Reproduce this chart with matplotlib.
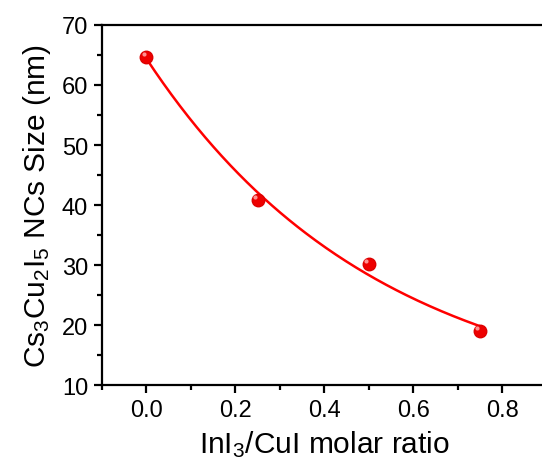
import numpy as np
import matplotlib
matplotlib.use('Agg')
import matplotlib.pyplot as plt
from matplotlib.ticker import MultipleLocator

plt.rcParams['font.family'] = ['Liberation Sans', 'DejaVu Sans']
plt.rcParams['mathtext.default'] = 'regular'

ratio = np.array([0.0, 0.25, 0.5, 0.75])
size_nm = np.array([64.7, 40.8, 30.1, 19.0])

# exponential decay fit  y = A*exp(-x/t) + y0
best = None
for t in np.linspace(0.1, 5, 2000):
    M = np.column_stack([np.exp(-ratio / t), np.ones_like(ratio)])
    coef, res, _, _ = np.linalg.lstsq(M, size_nm, rcond=None)
    err = np.sum((M @ coef - size_nm) ** 2)
    if best is None or err < best[0]:
        best = (err, t, coef)
_, t_fit, (A_fit, y0_fit) = best
xf = np.linspace(ratio.min(), ratio.max(), 200)
yf = A_fit * np.exp(-xf / t_fit) + y0_fit

fig = plt.figure(figsize=(5.42, 4.64), dpi=100)
ax = fig.add_axes([0.188, 0.168, 0.821, 0.776])

ax.plot(xf, yf, color='red', lw=1.8, zorder=2)
ax.plot(ratio, size_nm, 'o', ms=9, color='#ee0000', mec='#dd0000', zorder=3)
ax.plot(ratio - 0.006, size_nm + 0.5, 'o', ms=3, color='#ff9090', mec='none', zorder=4)

ax.set_xlim(-0.1, 0.9)
ax.set_ylim(10, 70)
ax.xaxis.set_major_locator(MultipleLocator(0.2))
ax.xaxis.set_minor_locator(MultipleLocator(0.1))
ax.yaxis.set_major_locator(MultipleLocator(10))
ax.yaxis.set_minor_locator(MultipleLocator(5))
ax.tick_params(which='major', direction='out', length=6, width=1.6, labelsize=17,
               top=False, right=False, pad=4)
ax.tick_params(which='minor', direction='out', length=3.5, width=1.6,
               top=False, right=False)
for s in ax.spines.values():
    s.set_linewidth(1.6)

ax.set_xlabel('InI$_3$/CuI molar ratio', fontsize=21.5, labelpad=5)
ax.set_ylabel('Cs$_3$Cu$_2$I$_5$ NCs Size (nm)', fontsize=21.5, labelpad=6)

fig.savefig('out.png', dpi=100)
